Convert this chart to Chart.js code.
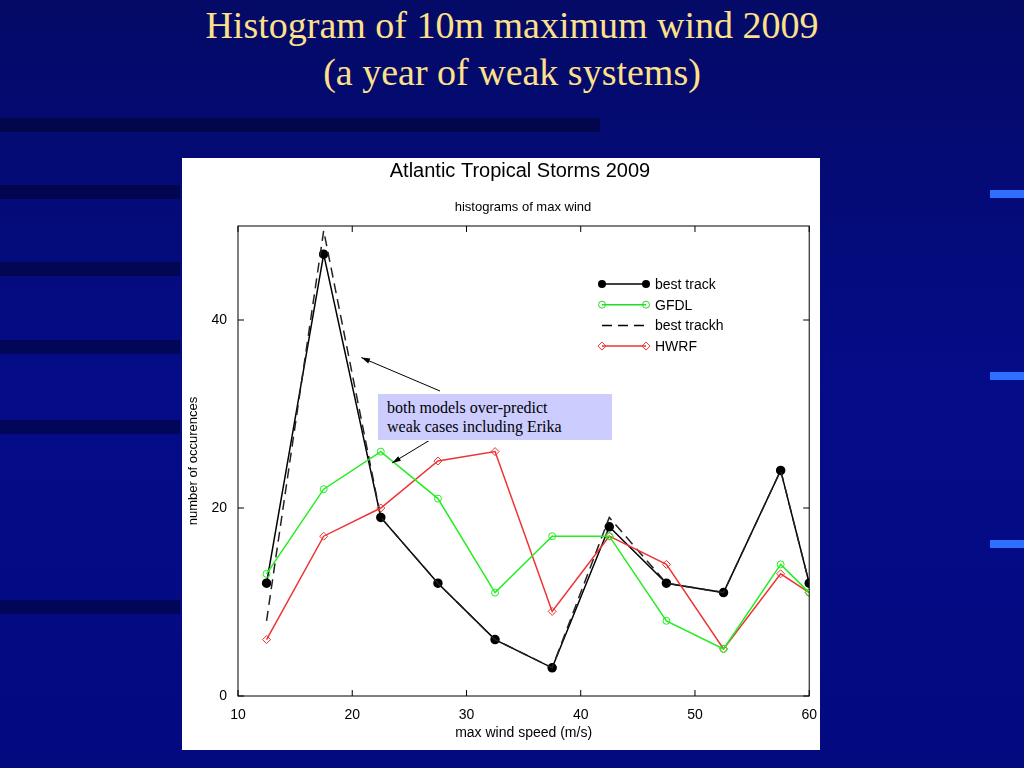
<!DOCTYPE html>
<html><head><meta charset="utf-8">
<script src="https://cdn.jsdelivr.net/npm/chart.js@4"></script>
<style>
body{margin:0;width:1024px;height:768px;overflow:hidden;position:relative;font-family:"Liberation Serif",serif;
background:linear-gradient(180deg,#040a66 0%,#040c88 50%,#030a80 100%)}
.band{position:absolute;left:0;height:14px;background:rgba(0,0,30,0.45)}
h1{position:absolute;top:2px;left:0;width:1024px;text-align:center;margin:0;color:#FFE08A;font-weight:normal;font-size:38px;line-height:47px;font-family:"Liberation Serif",serif}
#panel{position:absolute;left:182px;top:158px;width:638px;height:592px;background:#fff}
#note{position:absolute;left:377px;top:393px;width:236px;height:48px;background:#CCCCFF;border:1px solid #fff;font-family:"Liberation Serif",serif;font-size:16px;line-height:19px;padding:4px 0 0 9px;box-sizing:border-box;color:#000}
.tab{position:absolute;right:0;width:34px;height:8px;background:#2f6fff}
</style></head><body>
<div class="band" style="top:118px;width:600px"></div>
<div class="band" style="top:185px;width:180px"></div>
<div class="band" style="top:262px;width:180px"></div>
<div class="band" style="top:340px;width:180px"></div>
<div class="band" style="top:420px;width:180px"></div>
<div class="band" style="top:600px;width:180px"></div>
<div class="tab" style="top:190px"></div>
<div class="tab" style="top:372px"></div>
<div class="tab" style="top:540px"></div>
<h1>Histogram of 10m maximum wind 2009<br>(a year of weak systems)</h1>
<div id="panel"><canvas id="c" width="638" height="592"></canvas></div>
<div id="note">both models over-predict<br>weak cases including Erika</div>
<script>
const xs=[12.5,17.5,22.5,27.5,32.5,37.5,42.5,47.5,52.5,57.5,60];
const bestTrack=[12,47,19,12,6,3,18,12,11,24,12];
const gfdl=[13,22,26,21,11,17,17,8,5,14,11];
const bestTrackH=[8,49.5,19,12,6,3,19,12,11,24,12];
const hwrf=[6,17,20,25,26,9,17,14,5,13,11];
const yTicks=[0,20,40];
const pts=a=>a.map((v,i)=>({x:xs[i],y:v}));
const F='"Liberation Sans",Arial,sans-serif';
const deco={id:'deco',afterDraw(ch){
 const c=ch.ctx,a=ch.chartArea,X=ch.scales.x,Y=ch.scales.y;
 c.save();c.strokeStyle='#000';c.lineWidth=1;c.strokeRect(a.left,a.top,a.right-a.left,a.bottom-a.top);
 [10,20,30,40,50,60].forEach(v=>{const p=X.getPixelForValue(v);c.beginPath();c.moveTo(p,a.bottom);c.lineTo(p,a.bottom-6);c.moveTo(p,a.top);c.lineTo(p,a.top+6);c.stroke();});
 yTicks.forEach(v=>{const p=Y.getPixelForValue(v);c.beginPath();c.moveTo(a.left,p);c.lineTo(a.left+6,p);c.moveTo(a.right,p);c.lineTo(a.right-6,p);c.stroke();});
 c.fillStyle='#000';c.textAlign='center';c.font='20px '+F;c.fillText('Atlantic Tropical Storms 2009',338,19);
 c.font='13px '+F;c.fillText('histograms of max wind',341,53);
 const L=[['best track','#000',[],'dot'],['GFDL','#22dd22',[],'circ'],['best trackh','#000',[10,6],null],['HWRF','#ee3333',[],'dia']];
 L.forEach((l,i)=>{const y=126+i*20.7,x0=420,x1=464;c.strokeStyle=l[1];c.setLineDash(l[2]);c.lineWidth=1.5;c.beginPath();c.moveTo(x0,y);c.lineTo(x1,y);c.stroke();c.setLineDash([]);
  [x0,x1].forEach(x=>{c.beginPath();if(l[3]==='dot'){c.fillStyle='#000';c.arc(x,y,4,0,7);c.fill();}else if(l[3]==='circ'){c.lineWidth=1;c.arc(x,y,3.5,0,7);c.stroke();}else if(l[3]==='dia'){c.lineWidth=1;c.moveTo(x-4,y);c.lineTo(x,y-4);c.lineTo(x+4,y);c.lineTo(x,y+4);c.closePath();c.stroke();}});
  c.fillStyle='#000';c.textAlign='left';c.font='14px '+F;c.fillText(l[0],473,y+5);});
 const arrow=(x1,y1,x2,y2)=>{c.strokeStyle='#000';c.fillStyle='#000';c.lineWidth=1;c.beginPath();c.moveTo(x1,y1);c.lineTo(x2,y2);c.stroke();const an=Math.atan2(y2-y1,x2-x1);c.beginPath();c.moveTo(x2,y2);c.lineTo(x2-9*Math.cos(an-0.3),y2-9*Math.sin(an-0.3));c.lineTo(x2-9*Math.cos(an+0.3),y2-9*Math.sin(an+0.3));c.closePath();c.fill();};
 arrow(440-182,391-158,X.getPixelForValue(20.8),Y.getPixelForValue(36));
 arrow(430-182,440-158,X.getPixelForValue(23.5),Y.getPixelForValue(24.8));
 c.restore();}};
const ds=(label,data,color,o)=>Object.assign({label,data:pts(data),borderColor:color,backgroundColor:color,borderWidth:1.5,tension:0},o);
new Chart(document.getElementById('c'),{type:'line',
 data:{datasets:[
  ds('GFDL',gfdl,'#22ee22',{pointStyle:'circle',pointRadius:3.5,pointBackgroundColor:'rgba(0,0,0,0)',pointBorderWidth:1}),
  ds('HWRF',hwrf,'#ee3333',{pointStyle:'rectRot',pointRadius:4,pointBackgroundColor:'rgba(0,0,0,0)',pointBorderWidth:1}),
  ds('best trackh',bestTrackH,'#222',{borderDash:[10,6],pointRadius:0}),
  ds('best track',bestTrack,'#000',{pointRadius:4,pointBackgroundColor:'#000'})]},
 options:{responsive:false,animation:false,
  layout:{padding:{top:68,right:10,left:0,bottom:0}},
  plugins:{legend:{display:false},tooltip:{enabled:false}},
  scales:{
   x:{type:'linear',min:10,max:60,afterFit(s){s.height=54;},grid:{display:false},border:{display:false},
      ticks:{stepSize:10,color:'#000',font:{size:14,family:F}},
      title:{display:true,text:'max wind speed (m/s)',color:'#000',font:{size:14,family:F},padding:{top:0,bottom:8}}},
   y:{min:0,max:50,afterFit(s){s.width=56;},afterBuildTicks(s){s.ticks=yTicks.map(v=>({value:v}));},grid:{display:false},border:{display:false},
      ticks:{color:'#000',font:{size:14,family:F}},
      title:{display:true,text:'number of occurences',color:'#000',font:{size:13,family:F},padding:{top:4,bottom:0}}}}},
 plugins:[deco]});
</script></body></html>
